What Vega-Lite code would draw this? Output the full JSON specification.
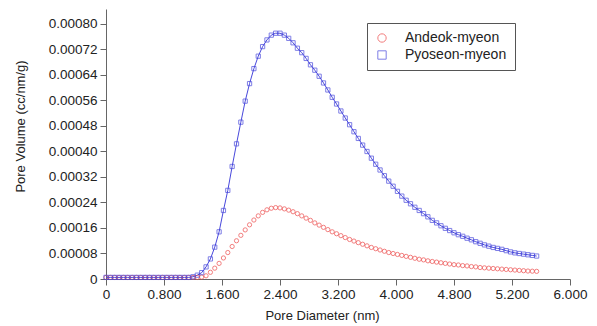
{
"$schema": "https://vega.github.io/schema/vega-lite/v6.json",
"width": 464, "height": 270,
"autosize": {"type": "none"},
"padding": {"left": 106, "top": 9, "right": 27, "bottom": 47},
"background": "white",
"config": {
  "font": "Liberation Sans",
  "view": {"stroke": null},
  "axis": {"domainColor": "#666", "tickColor": "#666", "labelColor": "#222", "titleColor": "#222", "labelFontSize": 13.5, "titleFontSize": 13, "titleFontWeight": "normal", "grid": false, "tickSize": 6, "labelFont": "Liberation Sans", "titleFont": "Liberation Sans"}
},
"data": {"values": [
{"d":0.00,"Andeok-myeon":0.000005,"Pyoseon-myeon":0.000005},
{"d":0.06,"Andeok-myeon":0.000005,"Pyoseon-myeon":0.000005},
{"d":0.12,"Andeok-myeon":0.000005,"Pyoseon-myeon":0.000005},
{"d":0.18,"Andeok-myeon":0.000005,"Pyoseon-myeon":0.000005},
{"d":0.24,"Andeok-myeon":0.000005,"Pyoseon-myeon":0.000005},
{"d":0.30,"Andeok-myeon":0.000005,"Pyoseon-myeon":0.000005},
{"d":0.36,"Andeok-myeon":0.000005,"Pyoseon-myeon":0.000005},
{"d":0.42,"Andeok-myeon":0.000005,"Pyoseon-myeon":0.000005},
{"d":0.48,"Andeok-myeon":0.000005,"Pyoseon-myeon":0.000005},
{"d":0.54,"Andeok-myeon":0.000005,"Pyoseon-myeon":0.000005},
{"d":0.60,"Andeok-myeon":0.000005,"Pyoseon-myeon":0.000005},
{"d":0.66,"Andeok-myeon":0.000005,"Pyoseon-myeon":0.000005},
{"d":0.72,"Andeok-myeon":0.000005,"Pyoseon-myeon":0.000005},
{"d":0.78,"Andeok-myeon":0.000005,"Pyoseon-myeon":0.000005},
{"d":0.84,"Andeok-myeon":0.000005,"Pyoseon-myeon":0.000005},
{"d":0.90,"Andeok-myeon":0.000005,"Pyoseon-myeon":0.000005},
{"d":0.96,"Andeok-myeon":0.000005,"Pyoseon-myeon":0.000005},
{"d":1.02,"Andeok-myeon":0.000005,"Pyoseon-myeon":0.000005},
{"d":1.08,"Andeok-myeon":0.000005,"Pyoseon-myeon":0.000005},
{"d":1.14,"Andeok-myeon":0.000005,"Pyoseon-myeon":0.000005},
{"d":1.20,"Andeok-myeon":0.000005,"Pyoseon-myeon":0.000007},
{"d":1.26,"Andeok-myeon":0.000005,"Pyoseon-myeon":0.000012},
{"d":1.32,"Andeok-myeon":0.000006,"Pyoseon-myeon":0.000020},
{"d":1.38,"Andeok-myeon":0.000010,"Pyoseon-myeon":0.000038},
{"d":1.44,"Andeok-myeon":0.000021,"Pyoseon-myeon":0.000063},
{"d":1.50,"Andeok-myeon":0.000034,"Pyoseon-myeon":0.000100},
{"d":1.56,"Andeok-myeon":0.000049,"Pyoseon-myeon":0.000148},
{"d":1.62,"Andeok-myeon":0.000066,"Pyoseon-myeon":0.000215},
{"d":1.68,"Andeok-myeon":0.000083,"Pyoseon-myeon":0.000278},
{"d":1.74,"Andeok-myeon":0.000102,"Pyoseon-myeon":0.000353},
{"d":1.80,"Andeok-myeon":0.000120,"Pyoseon-myeon":0.000424},
{"d":1.86,"Andeok-myeon":0.000137,"Pyoseon-myeon":0.000492},
{"d":1.92,"Andeok-myeon":0.000154,"Pyoseon-myeon":0.000558},
{"d":1.98,"Andeok-myeon":0.000170,"Pyoseon-myeon":0.000613},
{"d":2.04,"Andeok-myeon":0.000185,"Pyoseon-myeon":0.000660},
{"d":2.10,"Andeok-myeon":0.000198,"Pyoseon-myeon":0.000699},
{"d":2.16,"Andeok-myeon":0.000209,"Pyoseon-myeon":0.000729},
{"d":2.22,"Andeok-myeon":0.000217,"Pyoseon-myeon":0.000750},
{"d":2.28,"Andeok-myeon":0.000222,"Pyoseon-myeon":0.000765},
{"d":2.34,"Andeok-myeon":0.000224,"Pyoseon-myeon":0.000771},
{"d":2.40,"Andeok-myeon":0.000223,"Pyoseon-myeon":0.000771},
{"d":2.46,"Andeok-myeon":0.000220,"Pyoseon-myeon":0.000765},
{"d":2.52,"Andeok-myeon":0.000216,"Pyoseon-myeon":0.000755},
{"d":2.58,"Andeok-myeon":0.000211,"Pyoseon-myeon":0.000741},
{"d":2.64,"Andeok-myeon":0.000205,"Pyoseon-myeon":0.000724},
{"d":2.70,"Andeok-myeon":0.000198,"Pyoseon-myeon":0.000710},
{"d":2.76,"Andeok-myeon":0.000191,"Pyoseon-myeon":0.000692},
{"d":2.82,"Andeok-myeon":0.000184,"Pyoseon-myeon":0.000672},
{"d":2.88,"Andeok-myeon":0.000176,"Pyoseon-myeon":0.000655},
{"d":2.94,"Andeok-myeon":0.000169,"Pyoseon-myeon":0.000636},
{"d":3.00,"Andeok-myeon":0.000162,"Pyoseon-myeon":0.000615},
{"d":3.06,"Andeok-myeon":0.000155,"Pyoseon-myeon":0.000593},
{"d":3.12,"Andeok-myeon":0.000148,"Pyoseon-myeon":0.000570},
{"d":3.18,"Andeok-myeon":0.000142,"Pyoseon-myeon":0.000549},
{"d":3.24,"Andeok-myeon":0.000136,"Pyoseon-myeon":0.000527},
{"d":3.30,"Andeok-myeon":0.000130,"Pyoseon-myeon":0.000505},
{"d":3.36,"Andeok-myeon":0.000124,"Pyoseon-myeon":0.000484},
{"d":3.42,"Andeok-myeon":0.000119,"Pyoseon-myeon":0.000462},
{"d":3.48,"Andeok-myeon":0.000114,"Pyoseon-myeon":0.000441},
{"d":3.54,"Andeok-myeon":0.000109,"Pyoseon-myeon":0.000420},
{"d":3.60,"Andeok-myeon":0.000104,"Pyoseon-myeon":0.000400},
{"d":3.66,"Andeok-myeon":0.000099,"Pyoseon-myeon":0.000379},
{"d":3.72,"Andeok-myeon":0.000095,"Pyoseon-myeon":0.000360},
{"d":3.78,"Andeok-myeon":0.000091,"Pyoseon-myeon":0.000342},
{"d":3.84,"Andeok-myeon":0.000087,"Pyoseon-myeon":0.000324},
{"d":3.90,"Andeok-myeon":0.000083,"Pyoseon-myeon":0.000307},
{"d":3.96,"Andeok-myeon":0.000080,"Pyoseon-myeon":0.000291},
{"d":4.02,"Andeok-myeon":0.000077,"Pyoseon-myeon":0.000275},
{"d":4.08,"Andeok-myeon":0.000074,"Pyoseon-myeon":0.000260},
{"d":4.14,"Andeok-myeon":0.000071,"Pyoseon-myeon":0.000247},
{"d":4.20,"Andeok-myeon":0.000068,"Pyoseon-myeon":0.000236},
{"d":4.26,"Andeok-myeon":0.000065,"Pyoseon-myeon":0.000225},
{"d":4.32,"Andeok-myeon":0.000062,"Pyoseon-myeon":0.000215},
{"d":4.38,"Andeok-myeon":0.000060,"Pyoseon-myeon":0.000205},
{"d":4.44,"Andeok-myeon":0.000057,"Pyoseon-myeon":0.000195},
{"d":4.50,"Andeok-myeon":0.000055,"Pyoseon-myeon":0.000184},
{"d":4.56,"Andeok-myeon":0.000053,"Pyoseon-myeon":0.000176},
{"d":4.62,"Andeok-myeon":0.000051,"Pyoseon-myeon":0.000167},
{"d":4.68,"Andeok-myeon":0.000049,"Pyoseon-myeon":0.000159},
{"d":4.74,"Andeok-myeon":0.000047,"Pyoseon-myeon":0.000152},
{"d":4.80,"Andeok-myeon":0.000045,"Pyoseon-myeon":0.000145},
{"d":4.86,"Andeok-myeon":0.000044,"Pyoseon-myeon":0.000139},
{"d":4.92,"Andeok-myeon":0.000042,"Pyoseon-myeon":0.000134},
{"d":4.98,"Andeok-myeon":0.000041,"Pyoseon-myeon":0.000128},
{"d":5.04,"Andeok-myeon":0.000039,"Pyoseon-myeon":0.000123},
{"d":5.10,"Andeok-myeon":0.000038,"Pyoseon-myeon":0.000117},
{"d":5.16,"Andeok-myeon":0.000036,"Pyoseon-myeon":0.000112},
{"d":5.22,"Andeok-myeon":0.000035,"Pyoseon-myeon":0.000107},
{"d":5.28,"Andeok-myeon":0.000034,"Pyoseon-myeon":0.000103},
{"d":5.34,"Andeok-myeon":0.000033,"Pyoseon-myeon":0.000099},
{"d":5.40,"Andeok-myeon":0.000032,"Pyoseon-myeon":0.000096},
{"d":5.46,"Andeok-myeon":0.000031,"Pyoseon-myeon":0.000093},
{"d":5.52,"Andeok-myeon":0.000030,"Pyoseon-myeon":0.000089},
{"d":5.58,"Andeok-myeon":0.000029,"Pyoseon-myeon":0.000085},
{"d":5.64,"Andeok-myeon":0.000028,"Pyoseon-myeon":0.000082},
{"d":5.70,"Andeok-myeon":0.000027,"Pyoseon-myeon":0.000080},
{"d":5.76,"Andeok-myeon":0.000026,"Pyoseon-myeon":0.000078},
{"d":5.82,"Andeok-myeon":0.000025,"Pyoseon-myeon":0.000076},
{"d":5.88,"Andeok-myeon":0.0000245,"Pyoseon-myeon":0.000074},
{"d":5.94,"Andeok-myeon":0.000024,"Pyoseon-myeon":0.000072}
]},
"transform": [{"fold": ["Andeok-myeon", "Pyoseon-myeon"], "as": ["series", "value"]}],
"encoding": {
  "x": {"field": "d", "type": "quantitative",
    "scale": {"domain": [0, 6.4], "nice": false, "zero": false},
    "axis": {"title": "Pore Diameter (nm)", "values": [0, 0.8, 1.6, 2.4, 3.2, 4.0, 4.8, 5.6, 6.4],
      "labelExpr": "datum.value == 0 ? '0' : datum.value == 5.6 ? '5.200' : datum.value == 6.4 ? '6.000' : format(datum.value, '.3f')",
      "labelPadding": 2, "labelFlush": false, "titleX": 216, "titleY": 30}},
  "y": {"field": "value", "type": "quantitative",
    "scale": {"domain": [0, 0.000847], "nice": false},
    "axis": {"title": "Pore Volume (cc/nm/g)", "values": [0, 0.00008, 0.00016, 0.00024, 0.00032, 0.0004, 0.00048, 0.00056, 0.00064, 0.00072, 0.0008],
      "labelExpr": "datum.value == 0 ? '0' : format(datum.value, '.5f')",
      "labelPadding": 3, "labelFlush": false, "titleX": -86, "titleY": 117, "titleBaseline": "middle"}}
},
"layer": [
  {"transform": [{"filter": "datum.series == 'Pyoseon-myeon'"}],
   "mark": {"type": "line", "color": "#4848dc", "strokeWidth": 1},
   "encoding": {}},
  {"mark": {"type": "point", "filled": false, "strokeWidth": 1, "size": 18},
   "encoding": {
     "color": {"field": "series", "type": "nominal",
       "scale": {"domain": ["Andeok-myeon", "Pyoseon-myeon"], "range": ["#ee4848", "#4848dc"]},
       "legend": {"title": null, "orient": "none", "legendX": 261, "legendY": 14, "strokeColor": "#555", "fillColor": "white", "padding": 8, "symbolSize": 70, "symbolStrokeWidth": 1, "labelFontSize": 14, "labelOffset": 16, "rowPadding": 3, "labelColor": "#222", "labelFont": "Liberation Sans"}},
     "shape": {"field": "series", "type": "nominal",
       "scale": {"domain": ["Andeok-myeon", "Pyoseon-myeon"], "range": ["circle", "square"]}}
   }}
]
}
